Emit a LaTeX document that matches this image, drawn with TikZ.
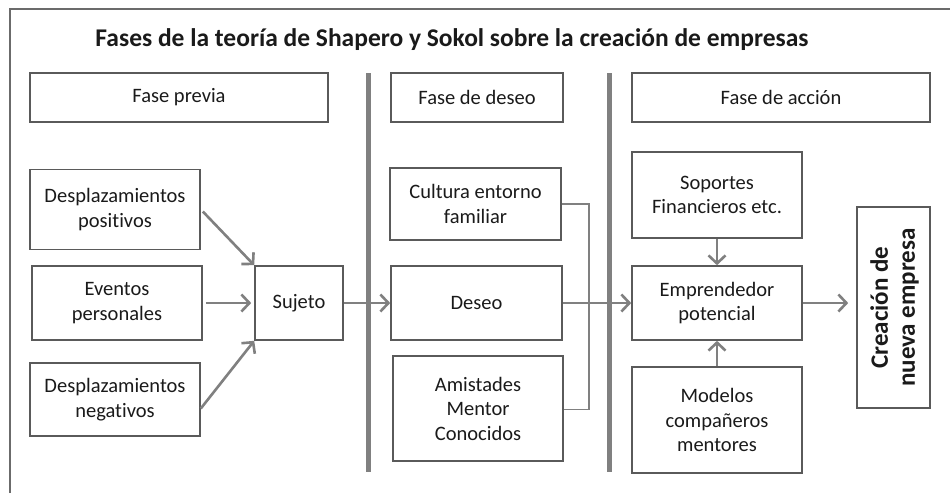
\documentclass[tikz,border=0pt]{standalone}
\usepackage{fontspec}
\setmainfont{Carlito}[Ligatures=NoCommon]
\usetikzlibrary{arrows.meta}
\definecolor{boxline}{HTML}{5A5A5A}
\definecolor{arrowgray}{HTML}{808080}
\definecolor{txt}{HTML}{1A1A1A}
\tikzset{
  box/.style={draw=boxline, line width=1.6pt, fill=white, inner sep=0pt, align=center,
    text=txt, font=\fontsize{20.5}{24.5}\selectfont},
  conn/.style={draw=arrowgray, line width=2.6pt, -{Straight Barb[length=8pt,width=17pt,line width=2.6pt]}},
  bracket/.style={draw=arrowgray, line width=1.8pt},
  divider/.style={draw=arrowgray, line width=5pt},
  frame/.style={draw=boxline!90, line width=2pt}
}
\begin{document}
\begin{tikzpicture}[x=1pt,y=-1pt]
\useasboundingbox (0,0) rectangle (950,493);
\fill[white] (0,0) rectangle (950,493);
\draw[frame] (10,493) -- (10,9) -- (950,9);
\node[text=txt, font=\bfseries\fontsize{25.5}{28}\selectfont] (title) at (452,40) {Fases de la teoría de Shapero y Sokol sobre la creación de empresas};
% dividers
\coordinate (v1t) at (368,73); \coordinate (v1b) at (368,472);
\coordinate (v2t) at (609,73); \coordinate (v2b) at (609,472);
% phase headers
\node[box, minimum width=298pt, minimum height=49pt] (fp) at (179,97.5) {Fase previa};
\node[box, minimum width=172pt, minimum height=49pt] (fd) at (477,97.5) {Fase de deseo};
\node[box, minimum width=298pt, minimum height=49pt] (fa) at (781,97.5) {Fase de acción};
% left column
\node[box, minimum width=170pt, minimum height=80pt] (dp) at (115,209.5) {Desplazamientos\\positivos};
\node[box, minimum width=170pt, minimum height=74pt] (ev) at (117,303) {Eventos\\personales};
\node[box, minimum width=88pt, minimum height=74pt] (suj) at (299,303) {Sujeto};
\node[box, minimum width=170pt, minimum height=73pt] (dn) at (115,399.5) {Desplazamientos\\negativos};
% middle column
\node[box, minimum width=171pt, minimum height=72pt] (cult) at (475.5,204) {Cultura entorno\\familiar};
\node[box, minimum width=171pt, minimum height=74pt] (des) at (476.5,303) {Deseo};
\node[box, minimum width=170pt, minimum height=105pt] (ami) at (478,408.5) {Amistades\\Mentor\\Conocidos};
% right column
\node[box, minimum width=170pt, minimum height=86pt] (sop) at (717,195) {Soportes\\Financieros etc.};
\node[box, minimum width=170pt, minimum height=74pt] (emp) at (717,303) {Emprendedor\\potencial};
\node[box, minimum width=170pt, minimum height=106pt] (mod) at (717,420) {Modelos\\compañeros\\mentores};
\node[box, minimum width=73pt, minimum height=201pt] (cre) at (893.5,307.5) {};
\node[text=txt, align=center, inner sep=0pt, font=\bfseries\fontsize{25}{27}\selectfont, rotate=90] (cretext) at ([xshift=1pt]cre.center) {Creación de\\nueva empresa};
% connectors
\draw[conn] ([xshift=2pt,yshift=-2pt]dp.east) -- (suj.north west);
\draw[conn] ([xshift=3pt]ev.east) -- ([xshift=-3pt]ev.east -| suj.west);
\draw[conn] ([yshift=-9pt]dn.east) -- (suj.south west);
\draw[conn] (suj.east) -- (des.west);
\draw[conn] (des.east) -- (emp.west);
\draw[conn] (sop.south) -- (emp.north);
\draw[conn] (mod.north) -- (emp.south);
\draw[conn] (emp.east) -- ([xshift=-8pt]emp.east -| cre.west);
\coordinate (bk1) at (589,0);
\draw[bracket] (cult.east) -- (cult.east -| bk1) -- ([yshift=-1pt]ami.east -| bk1) -- ([yshift=-1pt]ami.east);
\draw[divider] (v1t) -- (v1b);
\draw[divider] (v2t) -- (v2b);
\end{tikzpicture}
\end{document}
